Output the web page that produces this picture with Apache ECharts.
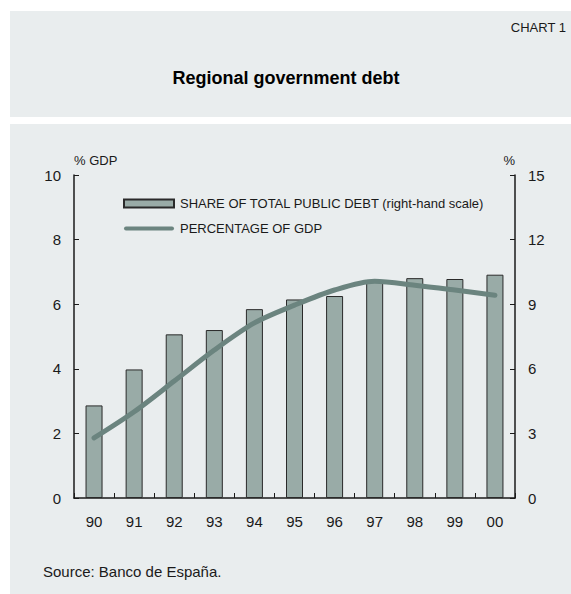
<!DOCTYPE html>
<html>
<head>
<meta charset="utf-8">
<script src="https://cdn.jsdelivr.net/npm/echarts@6/dist/echarts.min.js"></script>
<style>
  html, body { margin: 0; padding: 0; background: #ffffff; }
  #chart { width: 571px; height: 594px; }
</style>
</head>
<body>
<div id="chart"></div>
<script>
// data
const years = ['90', '91', '92', '93', '94', '95', '96', '97', '98', '99', '00']
const shareOfPublicDebt = [4.3, 5.97, 7.6, 7.8, 8.77, 9.22, 9.38, 10.03, 10.21, 10.17, 10.37]
const percentOfGdp = [1.86, 2.67, 3.62, 4.58, 5.42, 5.97, 6.44, 6.71, 6.59, 6.44, 6.28]
const leftTicks = [0, 2, 4, 6, 8, 10]
const rightTicks = [0, 3, 6, 9, 12, 15]

const panelColor = '#e9edee'
const barColor = '#99aba7'
const lineColor = '#6b847f'
const inkColor = '#1a1a1a'
const fontFamily = '"Liberation Sans", Arial, sans-serif'

const chart = echarts.init(document.getElementById('chart'), null, {renderer: 'svg'})

const axisCommon = {
    type: 'value',
    splitLine: {show: false},
    axisLine: {show: true, lineStyle: {color: inkColor, width: 1.5}},
    axisTick: {show: true, inside: true, length: 5, lineStyle: {color: inkColor}},
    axisLabel: {color: inkColor, fontSize: 15, fontFamily: fontFamily, margin: 13},
    nameTextStyle: {color: inkColor, fontSize: 13, fontFamily: fontFamily},
    nameGap: 8
}

const options = {
    animation: false,
    textStyle: {fontFamily: fontFamily},
    graphic: [
        {type: 'rect', z: -10, shape: {x: 10, y: 11, width: 561, height: 106}, style: {fill: panelColor}},
        {type: 'rect', z: -10, shape: {x: 10, y: 124, width: 561, height: 470}, style: {fill: panelColor}},
        {
            type: 'text', x: 566, y: 27,
            style: {
                text: 'CHART 1', fill: inkColor, font: '13px ' + fontFamily,
                align: 'right', verticalAlign: 'middle'
            }
        },
        {
            type: 'text', x: 286, y: 78,
            style: {
                text: 'Regional government debt', fill: '#000',
                font: 'bold 18px ' + fontFamily, align: 'center', verticalAlign: 'middle'
            }
        },
        {
            type: 'text', x: 43, y: 571,
            style: {
                text: 'Source: Banco de España.', fill: inkColor,
                font: '15px ' + fontFamily, verticalAlign: 'middle'
            }
        }
    ],
    legend: {
        orient: 'vertical',
        left: 118,
        top: 192,
        itemWidth: 50,
        itemHeight: 8,
        itemGap: 12,
        textStyle: {color: inkColor, fontSize: 13, fontFamily: fontFamily, padding: [0, 0, 0, 1]},
        data: [
            {name: 'SHARE OF TOTAL PUBLIC DEBT (right-hand scale)', icon: 'rect'},
            {
                name: 'PERCENTAGE OF GDP',
                icon: 'path://M2,0 L48,0 A2,2 0 0 1 48,4 L2,4 A2,2 0 0 1 2,0 Z',
                itemStyle: {color: lineColor, borderWidth: 0}
            }
        ]
    },
    grid: {left: 74, right: 56, top: 175, bottom: 96},
    xAxis: {
        type: 'category',
        data: years,
        boundaryGap: true,
        axisLine: {show: true, lineStyle: {color: inkColor, width: 1.5}},
        axisTick: {show: true, inside: true, length: 5, lineStyle: {color: inkColor}},
        axisLabel: {color: inkColor, fontSize: 15, fontFamily: fontFamily, margin: 16}
    },
    yAxis: [
        Object.assign({}, axisCommon, {
            position: 'left',
            min: leftTicks[0],
            max: leftTicks[leftTicks.length - 1],
            interval: leftTicks[1] - leftTicks[0],
            name: '% GDP',
            nameLocation: 'end',
            nameTextStyle: Object.assign({}, axisCommon.nameTextStyle, {align: 'left'})
        }),
        Object.assign({}, axisCommon, {
            position: 'right',
            min: rightTicks[0],
            max: rightTicks[rightTicks.length - 1],
            interval: rightTicks[1] - rightTicks[0],
            name: '%',
            nameLocation: 'end',
            nameTextStyle: Object.assign({}, axisCommon.nameTextStyle, {align: 'right'})
        })
    ],
    series: [
        {
            name: 'SHARE OF TOTAL PUBLIC DEBT (right-hand scale)',
            type: 'bar',
            yAxisIndex: 1,
            barWidth: 17,
            data: shareOfPublicDebt,
            itemStyle: {color: barColor, borderColor: '#2a2a2a', borderWidth: 1}
        },
        {
            name: 'PERCENTAGE OF GDP',
            type: 'line',
            yAxisIndex: 0,
            smooth: 0.3,
            symbol: 'none',
            z: 5,
            data: percentOfGdp,
            lineStyle: {color: lineColor, width: 5, cap: 'round'},
            itemStyle: {color: lineColor}
        }
    ]
}

chart.setOption(options)
</script>
</body>
</html>
